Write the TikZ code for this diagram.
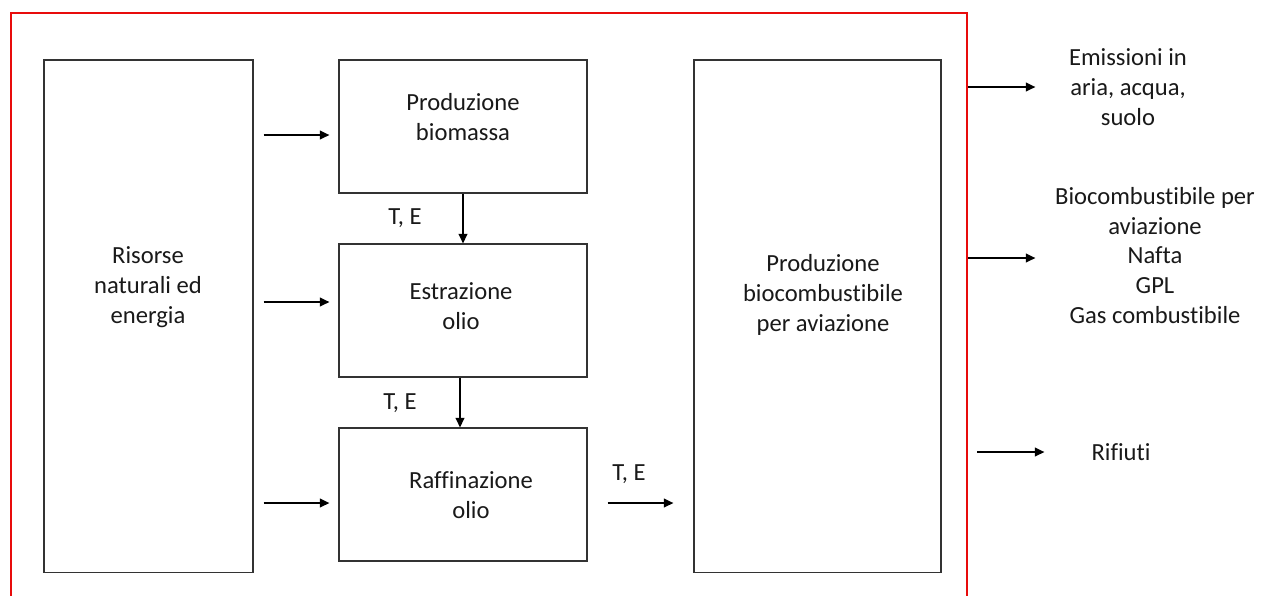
\documentclass[tikz,border=0pt]{standalone}
\usepackage{fontspec}
\setmainfont{Carlito}[Ligatures={NoCommon,NoContextual}]
\usetikzlibrary{arrows.meta}
\definecolor{frameRed}{RGB}{232,12,12}
\tikzset{
    box/.style={rectangle, draw=black!80, line width=0.8pt, inner sep=0pt},
    txt/.style={align=center, inner sep=0pt, text=black!90, font=\fontsize{17.5}{21.3}\selectfont},
    flow/.style={-{Triangle[length=2.4mm,width=2.2mm]}, line width=1.2pt, black}
}

\begin{document}
\begin{tikzpicture}[x=0.025cm, y=-0.025cm]
        \useasboundingbox (0,0) rectangle (1262,595);
        % system boundary
        \node (frame) [rectangle, draw=frameRed, line width=1.8pt, minimum width=23.9cm, minimum height=15.175cm] at (489,316.5) {};
        % process boxes
        \node (ris) [box, minimum width=5.225cm, minimum height=12.8cm] at (148.5,316) {};
        \node (bio) [box, minimum width=6.2cm, minimum height=3.325cm] at (463,126.5) {};
        \node (est) [box, minimum width=6.2cm, minimum height=3.325cm] at (463,310.5) {};
        \node (raf) [box, minimum width=6.2cm, minimum height=3.325cm] at (463,494.5) {};
        \node (prod) [box, minimum width=6.175cm, minimum height=12.8cm] at (817.5,316) {};
        % box texts
        \node (tRis) [txt] at (148,287) {Risorse\\naturali ed\\energia};
        \node (tBio) [txt] at (463,117) {Produzione\\biomassa};
        \node (tEst) [txt] at (461,306) {Estrazione\\olio};
        \node (tRaf) [txt] at (471,495) {Raffinazione\\olio};
        \node (tProd) [txt] at (823,295) {Produzione\\biocombustibile\\per aviazione};
        % outputs
        \node (emi) [txt] at (1128,87) {Emissioni in\\aria, acqua,\\suolo};
        \node (out) [txt] at (1155,255.5) {Biocombustibile per\\aviazione\\Nafta\\GPL\\Gas combustibile};
        \node (rif) [txt] at (1121,452) {Rifiuti};
        % transport and energy labels
        \node (te1) [txt] at (405,218) {T, E};
        \node (te2) [txt] at (400,403) {T, E};
        \node (te3) [txt] at (629,474) {T, E};
        % flows
        \draw[flow, shorten <=0.25cm, shorten >=0.225cm] ([yshift=-0.2125cm]ris.east |- bio.west) -- ([yshift=-0.2125cm]bio.west);
        \draw[flow, shorten <=0.25cm, shorten >=0.225cm] ([yshift=0.2125cm]ris.east |- est.west) -- ([yshift=0.2125cm]est.west);
        \draw[flow, shorten <=0.25cm, shorten >=0.225cm] ([yshift=-0.2125cm]ris.east |- raf.west) -- ([yshift=-0.2125cm]raf.west);
        \draw[flow] (bio.south) -- (est.north);
        \draw[flow] ([xshift=-0.075cm]est.south) -- ([xshift=-0.075cm]raf.north);
        \draw[flow, shorten <=0.5cm, shorten >=0.5cm] ([yshift=-0.2125cm]raf.east) -- ([yshift=-0.2125cm]raf.east -| prod.west);
        \draw[flow] (frame.east |- emi) -- ++(67,0);
        \draw[flow] ([yshift=-0.0625cm]frame.east |- out) -- ++(67,0);
        \draw[flow] ([xshift=0.225cm]frame.east |- rif) -- ++(67,0);
\end{tikzpicture}
\end{document}
